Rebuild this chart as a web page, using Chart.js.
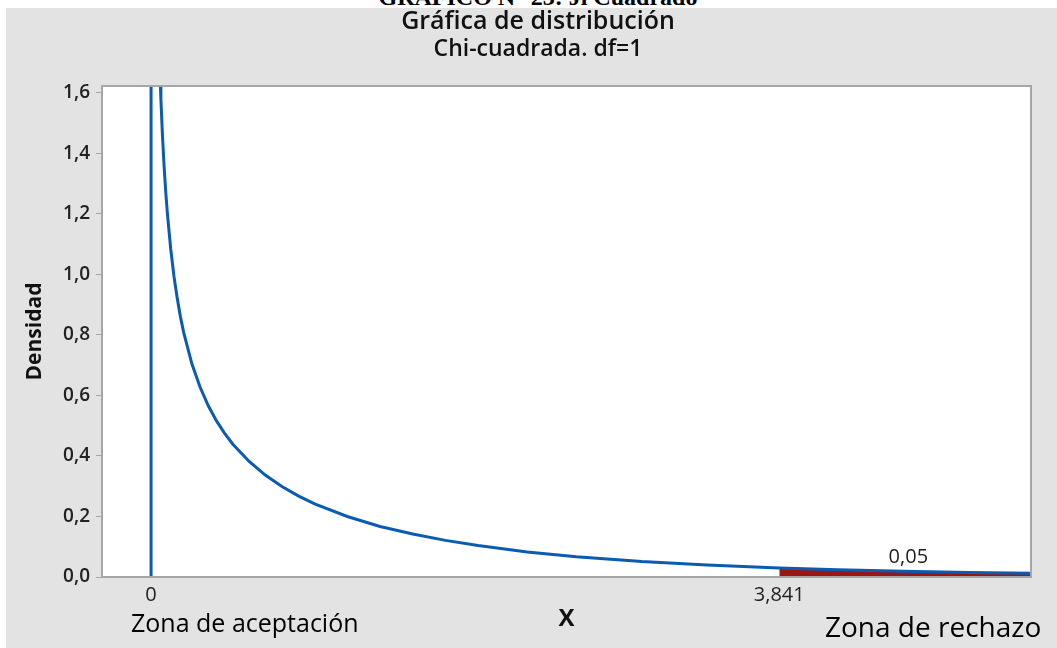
<!DOCTYPE html>
<html>
<head>
<meta charset="utf-8">
<script src="https://cdn.jsdelivr.net/npm/chart.js@4"></script>
<style>
  html, body { margin:0; padding:0; background:#ffffff; width:1057px; height:648px; overflow:hidden; position:relative; font-family:"Open Sans", sans-serif; }
  #panel { position:absolute; left:6px; top:8px; width:1051px; height:640px; background:#e3e3e3; }
  #cv { position:absolute; left:0; top:0; }
  .t { position:absolute; white-space:nowrap; color:#111; }
</style>
</head>
<body>
<div class="t" style="left:0;width:1076px;text-align:center;top:-15px;font:bold 24px 'Liberation Serif',serif;line-height:24px;color:#000;">GRAFICO N° 23: Ji Cuadrado</div>
<div id="panel">
  <canvas id="cv" width="1051" height="640"></canvas>
  <div class="t" style="left:0;width:1064px;text-align:center;top:-6px;font:600 25px 'Open Sans',sans-serif;line-height:34px;">Gráfica de distribución</div>
  <div class="t" style="left:0;width:1064px;text-align:center;top:23px;font:600 23px 'Open Sans',sans-serif;line-height:32px;">Chi-cuadrada. df=1</div>
  <div class="t" style="left:125px;top:597px;font:400 25px 'Open Sans',sans-serif;line-height:34px;color:#000;">Zona de aceptación</div>
  <div class="t" style="left:819px;top:599px;font:400 28px 'Open Sans',sans-serif;line-height:38px;color:#000;">Zona de rechazo</div>
</div>
<script>
// Chi-square df=1 density
const curveX = [0.055, 0.06, 0.07, 0.08, 0.09, 0.10, 0.12, 0.14, 0.16, 0.18, 0.20, 0.25, 0.30, 0.35, 0.40, 0.45, 0.50, 0.60, 0.70, 0.80, 0.90, 1.0, 1.2, 1.4, 1.6, 1.8, 2.0, 2.3, 2.6, 3.0, 3.4, 3.841, 4.2, 4.6, 5.0, 5.38];
const curveY = [1.655, 1.581, 1.456, 1.355, 1.271, 1.200, 1.085, 0.994, 0.921, 0.859, 0.807, 0.704, 0.627, 0.566, 0.516, 0.475, 0.439, 0.382, 0.336, 0.299, 0.268, 0.242, 0.200, 0.167, 0.142, 0.121, 0.104, 0.083, 0.067, 0.051, 0.040, 0.030, 0.024, 0.019, 0.015, 0.012];
const criticalValue = 3.841;
const tailArea = 0.05;
const tailLabel = "0,05";
const tailLabelPos = [4.63, 0.065];
const xTickValues = [0, 3.841];
const xTickLabels = ["0", "3,841"];
const yTickValues = [0, 0.2, 0.4, 0.6, 0.8, 1.0, 1.2, 1.4, 1.6];

const curve = curveX.map((x, i) => ({x: x, y: curveY[i]}));
const tail = curve.filter(p => p.x >= criticalValue);
const vline = [{x: 0, y: 0}, {x: 0, y: 1.7}];

const fmt = v => v.toFixed(1).replace('.', ',');

const bgPlugin = {
  id: 'bg',
  beforeDraw(chart) {
    const {ctx, chartArea: a} = chart;
    ctx.save();
    ctx.fillStyle = '#ffffff';
    ctx.fillRect(a.left, a.top, a.right - a.left, a.bottom - a.top);
    ctx.restore();
  },
  afterDraw(chart) {
    const {ctx, chartArea: a, scales} = chart;
    ctx.save();
    ctx.strokeStyle = '#a6a6a6';
    ctx.lineWidth = 2;
    ctx.strokeRect(a.left, a.top, a.right - a.left, a.bottom - a.top);
    ctx.fillStyle = '#222';
    ctx.font = '400 20px "Open Sans", sans-serif';
    ctx.textAlign = 'center';
    ctx.textBaseline = 'middle';
    ctx.fillText(tailLabel, scales.x.getPixelForValue(tailLabelPos[0]), scales.y.getPixelForValue(tailLabelPos[1]));
    ctx.restore();
  }
};

new Chart(document.getElementById('cv'), {
  type: 'scatter',
  data: {
    datasets: [
      { data: tail, showLine: true, fill: 'origin', backgroundColor: '#9b1515', borderWidth: 0, pointRadius: 0, order: 3 },
      { data: vline, showLine: true, borderColor: '#0a5cb0', borderWidth: 3, pointRadius: 0, fill: false, order: 2 },
      { data: curve, showLine: true, borderColor: '#0a5cb0', borderWidth: 3, pointRadius: 0, fill: false, order: 1 }
    ]
  },
  plugins: [bgPlugin],
  options: {
    responsive: false,
    animation: false,
    devicePixelRatio: 1,
    layout: { padding: { top: 78, right: 26, bottom: 0, left: 0 } },
    plugins: { legend: { display: false }, tooltip: { enabled: false }, title: { display: false } },
    scales: {
      x: {
        type: 'linear', min: -0.30, max: 5.38,
        afterBuildTicks: s => { s.ticks = xTickValues.map(v => ({value: v})); },
        afterFit: s => { s.height = 71; },
        ticks: { callback: (v) => xTickLabels[xTickValues.indexOf(v)] ?? '', color: '#222', font: { family: 'Open Sans', size: 20, weight: '400' }, padding: 6, maxRotation: 0, autoSkip: false },
        grid: { display: true, drawOnChartArea: false, drawTicks: false },
        border: { display: false },
        title: { display: true, text: 'X', color: '#111', font: { family: 'Open Sans', size: 24, weight: 'bold' }, padding: { top: 0, bottom: 14 } }
      },
      y: {
        type: 'linear', min: 0, max: 1.623,
        afterBuildTicks: s => { s.ticks = yTickValues.map(v => ({value: v})); },
        afterFit: s => { s.width = 96; },
        ticks: { callback: v => fmt(v), color: '#222', font: { family: 'Open Sans', size: 19, weight: '600' }, padding: 6 },
        grid: { display: true, drawOnChartArea: false, drawTicks: true, tickLength: 6, color: '#a6a6a6', tickWidth: 1 },
        border: { display: false },
        title: { display: true, text: 'Densidad', color: '#111', font: { family: 'Open Sans', size: 21, weight: 'bold' }, padding: { top: 16, bottom: 0 } }
      }
    }
  }
});
</script>
</body>
</html>
